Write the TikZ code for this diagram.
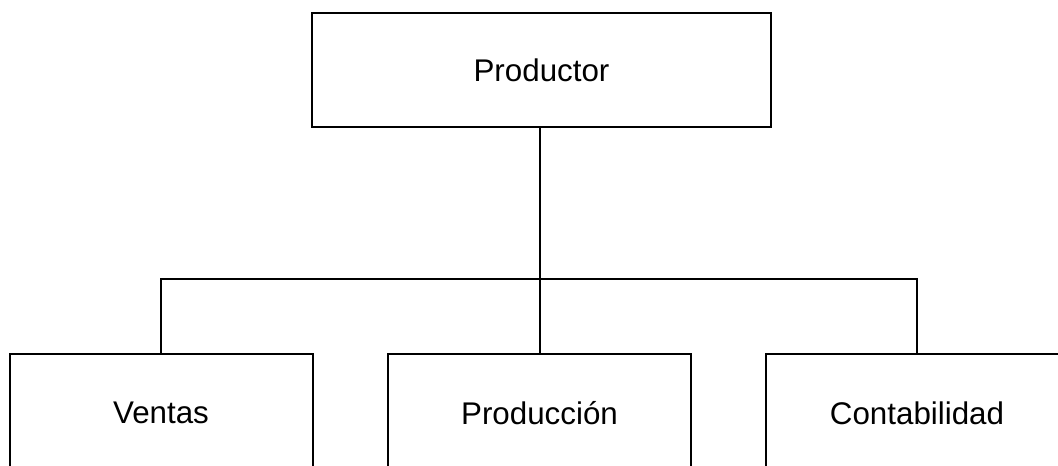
\documentclass[tikz,border=0pt]{standalone}
\usepackage{fontspec}
\setmainfont{Liberation Sans}
\begin{document}
\begin{tikzpicture}[x=0.75pt,y=-0.75pt,
  box/.style={draw,line width=1.5pt,rectangle,inner sep=0pt,font=\fontsize{23.5}{28}\selectfont},
  conn/.style={line width=1.5pt}]
\useasboundingbox (0,0) rectangle (1058,466);
\clip (0,0) rectangle (1058,466);
\node[box,minimum width=459*0.75pt,minimum height=114*0.75pt] (prod) at (541.5,70) {Productor};
\node[box,minimum width=303*0.75pt,minimum height=118*0.75pt] (ventas) at (161,413) {Ventas};
\node[box,minimum width=303*0.75pt,minimum height=118*0.75pt] (produccion) at (539.5,413) {Producción};
\node[box,minimum width=320*0.75pt,minimum height=118*0.75pt] (conta) at (926,413) {\kern-13.5pt Contabilidad};
\coordinate (jm) at (539.5,279);
\coordinate (jl) at (161,279);
\coordinate (jr) at (917,279);
\draw[conn] (prod.south -| jm) -- (jm) -- (produccion.north);
\draw[conn] (ventas.north) -- (jl) -- (jr) -- (jr |- conta.north);
\end{tikzpicture}
\end{document}
